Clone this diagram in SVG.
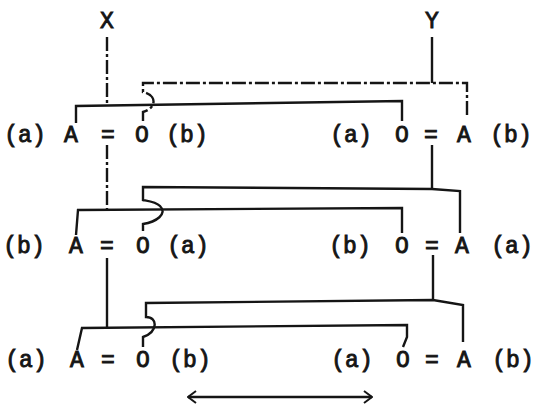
<svg xmlns="http://www.w3.org/2000/svg" width="533" height="412" viewBox="0 0 533 412">
<style>
text { font-family: "Liberation Mono", "DejaVu Sans Mono", monospace; font-size: 23px; fill: #151515; stroke: #151515; stroke-width: 0.9; text-anchor: middle; }
.ln { fill: none; stroke: #151515; stroke-width: 2.4; stroke-linejoin: miter; }
.dash { stroke-dasharray: 14 3 3 3; }
</style>
<defs>
<marker id="ah" viewBox="0 0 10 14" refX="9" refY="7" markerWidth="10" markerHeight="14" markerUnits="userSpaceOnUse" orient="auto-start-reverse">
<path d="M1,1 L9,7 L1,13" fill="none" stroke="#151515" stroke-width="2"/>
</marker>
</defs>
<rect width="533" height="412" fill="#ffffff"/>
<g id="label-X"><text x="107" y="28">X</text></g>
<g id="label-Y"><text x="432" y="28">Y</text></g>
<g id="row1-left">
<text x="25" y="142">(a)</text><text x="71" y="142">A</text><text x="108" y="142">=</text><text x="142" y="142">O</text><text x="187" y="142">(b)</text>
</g>
<g id="row1-right">
<text x="351" y="142">(a)</text><text x="402" y="142">O</text><text x="431" y="142">=</text><text x="464" y="142">A</text><text x="511" y="142">(b)</text>
</g>
<g id="row2-left">
<text x="24" y="253">(b)</text><text x="76" y="253">A</text><text x="107" y="253">=</text><text x="143" y="253">O</text><text x="188" y="253">(a)</text>
</g>
<g id="row2-right">
<text x="350" y="253">(b)</text><text x="402" y="253">O</text><text x="432" y="253">=</text><text x="462" y="253">A</text><text x="512" y="253">(a)</text>
</g>
<g id="row3-left">
<text x="26" y="367">(a)</text><text x="77" y="367">A</text><text x="108" y="367">=</text><text x="143" y="367">O</text><text x="190" y="367">(b)</text>
</g>
<g id="row3-right">
<text x="352" y="367">(a)</text><text x="403" y="367">O</text><text x="432" y="367">=</text><text x="464" y="367">A</text><text x="513" y="367">(b)</text>
</g>
<g id="connectors">
<path class="ln dash" d="M107,37 V105"/>
<path class="ln" d="M76,123 V106 L402,101 V121"/>
<path class="ln" d="M432,37 V83"/>
<path class="ln dash" d="M143,121 V112 C157,108 157,95 143,92 V83 H467 V117"/>
<path class="ln dash" d="M107,145 V210"/>
<path class="ln" d="M76,235 L78,210 L402,208 V233"/>
<path class="ln" d="M432,145 V189"/>
<path class="ln" d="M143,231 V224 C156,222 168,214 160,206 C156,202 148,201 143,200 V187 L432,189 L460,191 V233"/>
<path class="ln" d="M107,258 V328"/>
<path class="ln" d="M77,350 L82,328 L407,325 V337 L403,347"/>
<path class="ln" d="M433,255 V300"/>
<path class="ln" d="M143,347 V337 C158,332 158,317 146,317 V303 L433,300 L463,305 V342"/>
<path class="ln" d="M188,397 L372,397" marker-start="url(#ah)" marker-end="url(#ah)"/>
</g>
</svg>
